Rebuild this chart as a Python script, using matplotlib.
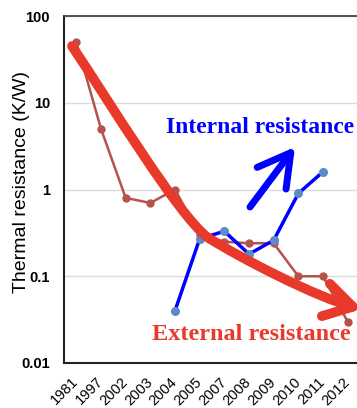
import matplotlib.pyplot as plt
import numpy as np
from matplotlib.path import Path
from matplotlib.patches import FancyArrowPatch
from matplotlib.transforms import Affine2D

years = ['1981', '1997', '2002', '2003', '2004', '2005', '2007', '2008', '2009', '2010', '2011', '2012']
external = [50, 5, 0.8, 0.7, 1.0, 0.3, 0.25, 0.24, 0.24, 0.1, 0.1, 0.03]
internal = [np.nan, np.nan, np.nan, np.nan, 0.04, 0.27, 0.33, 0.18, 0.26, 0.9, 1.6, np.nan]
ytick_vals = [0.01, 0.1, 1, 10, 100]
ytick_labels = ['0.01', '0.1', '1', '10', '100']

W, H = 357, 408
fig = plt.figure(figsize=(W / 100, H / 100), dpi=100)
ax = fig.add_axes([64 / W, 45 / H, 296 / W, 347 / H])

x = np.arange(len(years))
ax.plot(x, external, color='#b5524c', lw=1.8, marker='o', ms=5, zorder=4)
ax.plot(x, internal, color='#0000ff', lw=2.5, marker='o', ms=5.5,
        mfc='#5b8bc8', mec='#5b8bc8', zorder=5)

ax.set_yscale('log')
ax.set_ylim(0.01, 100)
ax.set_xlim(-0.5, len(years) - 0.5)
ax.set_yticks(ytick_vals)
ax.set_yticklabels(ytick_labels, fontsize=10.5, fontweight='bold', family='Liberation Sans')
ax.minorticks_off()
ax.set_xticks(x)
ax.set_xticklabels(years, rotation=45, ha='right', va='center', rotation_mode='anchor',
                   fontsize=10.5, family='Liberation Sans')
ax.tick_params(axis='both', length=0)
ax.tick_params(axis='y', pad=10)
ax.tick_params(axis='x', pad=12)
ax.grid(axis='y', color='#dcdcdc', lw=1)
ax.set_axisbelow(True)
for side in ['left', 'bottom']:
    ax.spines[side].set_color('#222222')
    ax.spines[side].set_linewidth(1.5)
ax.spines['top'].set_color('#444444')
ax.spines['top'].set_linewidth(1.3)
ax.spines['right'].set_visible(False)

fig.text(22 / W, 1 - 182 / H, 'Thermal resistance (K/W)', rotation=90,
         ha='center', va='center', fontsize=14, family='Liberation Sans')

# annotation arrows, laid out in pixel coordinates (y down)
px = Affine2D().scale(1 / W, -1 / H).translate(0, 1) + fig.transFigure

trend = Path([(72, 46), (112, 106), (177, 213), (207, 237),
              (240, 258), (318, 298), (362, 309)],
             [Path.MOVETO, Path.CURVE4, Path.CURVE4, Path.CURVE4,
              Path.CURVE4, Path.CURVE4, Path.CURVE4])
fig.add_artist(FancyArrowPatch(path=trend, transform=px,
                               arrowstyle='->,head_length=1.0,head_width=0.6',
                               mutation_scale=20, color='#e8392b', lw=7,
                               capstyle='round', joinstyle='round', zorder=3))

rise = Path([(250, 207), (295, 147)], [Path.MOVETO, Path.LINETO])
fig.add_artist(FancyArrowPatch(path=rise, transform=px,
                               arrowstyle='->,head_length=1.15,head_width=0.65',
                               mutation_scale=20, color='#0000ff', lw=5,
                               capstyle='round', joinstyle='round', zorder=6))

fig.text(166 / W, 1 - 133 / H, 'Internal resistance', color='#0000ff',
         fontsize=17, fontweight='bold', family='Liberation Serif', va='baseline')
fig.text(152 / W, 1 - 340 / H, 'External resistance', color='#e8392b',
         fontsize=17.5, fontweight='bold', family='Liberation Serif', va='baseline')

fig.savefig('out.png', dpi=100)
